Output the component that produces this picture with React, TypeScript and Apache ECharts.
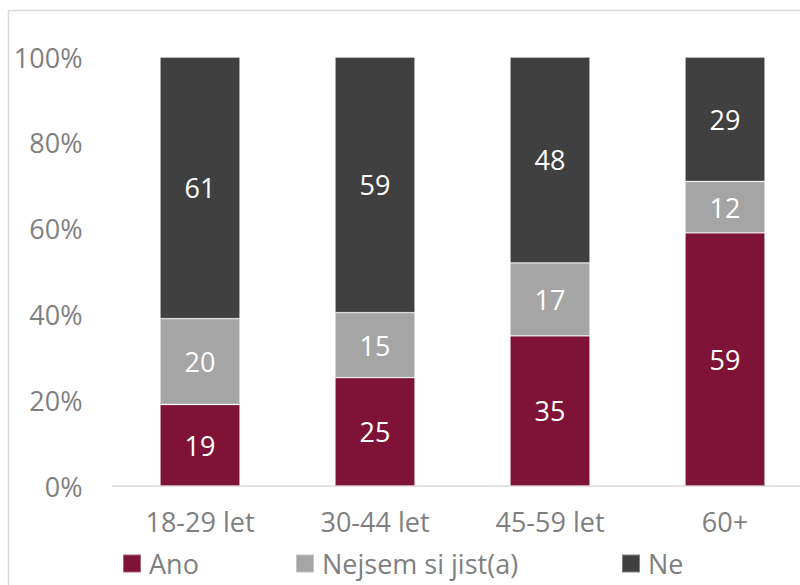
import React, { useEffect, useRef } from "react";
import * as echarts from "echarts";

const categories = ["18-29 let", "30-44 let", "45-59 let", "60+"];
const seriesNames = ["Ano", "Nejsem si jist(a)", "Ne"];
const ano = [19, 25, 35, 59];
const nejsem = [20, 15, 17, 12];
const ne = [61, 59, 48, 29];
const yTicks = [0, 20, 40, 60, 80, 100];

const colors = ["#7F1337", "#A5A5A5", "#404040"];
const FONT = "'Open Sans', sans-serif";
const GREY = "#7F7F7F";

export default function App() {
  const ref = useRef<HTMLDivElement>(null);
  useEffect(() => {
    if (!ref.current) return;
    const chart = echarts.init(ref.current, undefined, { renderer: "svg" });
    const raw = [ano, nejsem, ne];
    const totals = categories.map((_, i) => raw.reduce((s, arr) => s + arr[i], 0));
    const legendLefts = [122, 295, 621];
    const option: echarts.EChartsCoreOption = {
      animation: false,
      textStyle: { fontFamily: FONT },
      graphic: [
        { type: "line", shape: { x1: 8.5, y1: 10.5, x2: 800, y2: 10.5 }, style: { stroke: "#D9D9D9", lineWidth: 1.5 } },
        { type: "line", shape: { x1: 8.5, y1: 10.5, x2: 8.5, y2: 585 }, style: { stroke: "#D9D9D9", lineWidth: 1.5 } },
      ],
      legend: seriesNames.map((n, i) => ({
        data: [n],
        left: legendLefts[i],
        top: 550,
        padding: 0,
        itemWidth: 18,
        itemHeight: 18,
        itemGap: 0,
        icon: "rect",
        textStyle: { fontFamily: FONT, fontSize: 27, color: GREY, padding: [0, 0, 0, 3] },
        selectedMode: false,
      })),
      grid: { left: 112.5, top: 57, width: 700, bottom: 585 - 486, outerBoundsMode: "none", containLabel: false },
      xAxis: {
        type: "category",
        data: categories,
        axisTick: { show: false },
        axisLine: { lineStyle: { color: "#D9D9D9", width: 1.5 } },
        axisLabel: { fontFamily: FONT, fontSize: 27, color: GREY, margin: 22 },
      },
      yAxis: {
        type: "value",
        min: yTicks[0],
        max: yTicks[yTicks.length - 1],
        interval: 20,
        splitLine: { show: false },
        axisLine: { show: false },
        axisTick: { show: false },
        axisLabel: { fontFamily: FONT, fontSize: 27, color: GREY, margin: 30, formatter: "{value}%" },
      },
      series: seriesNames.map((name, si) => ({
        name,
        type: "bar",
        stack: "total",
        barWidth: 80,
        itemStyle: { color: colors[si], borderColor: "rgba(255,255,255,0.35)", borderWidth: 0.8 },
        label: {
          show: true,
          position: "inside",
          color: "#FFFFFF",
          fontFamily: FONT,
          fontSize: 27,
          formatter: (p: any) => String(raw[si][p.dataIndex]),
        },
        data: raw[si].map((v, i) => (v / totals[i]) * 100),
      })),
    };
    chart.setOption(option);
    return () => chart.dispose();
  }, []);
  return <div ref={ref} style={{ position: "fixed", left: 0, top: 0, width: 800, height: 585, background: "#fff" }} />;
}
